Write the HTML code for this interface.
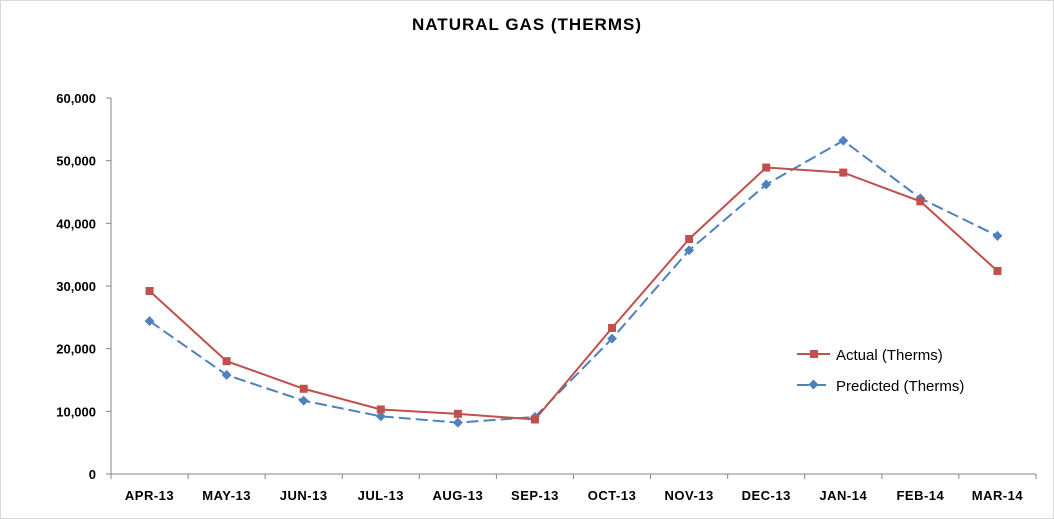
<!DOCTYPE html>
<html><head><meta charset="utf-8"><style>
html,body{margin:0;padding:0;background:#fff;}
svg{display:block;font-family:"Liberation Sans",Arial,sans-serif;}
</style></head><body>
<svg id="chart" width="1054" height="519">
<rect x="0.5" y="0.5" width="1053" height="518" fill="#fff" stroke="#d9d9d9"/>
<text x="527" y="30" text-anchor="middle" font-size="17" font-weight="bold" letter-spacing="1" fill="#000">NATURAL GAS (THERMS)</text>
<g id="axes"></g><g id="series"></g>
<g>
<line x1="797" y1="354" x2="830" y2="354" stroke="#C0504D" stroke-width="2"/>
<rect x="810" y="350" width="8" height="8" fill="#C0504D"/>
<text x="836" y="360" font-size="15" fill="#000">Actual (Therms)</text>
<line x1="797" y1="385" x2="830" y2="385" stroke="#4F81BD" stroke-width="2" stroke-dasharray="12,5"/>
<rect x="810" y="381" width="7" height="7" fill="#4F81BD" transform="rotate(45 813.5 384.5)"/>
<text x="836" y="391" font-size="15" fill="#000">Predicted (Therms)</text>
</g>
</svg>
<script>
const categories=["APR-13","MAY-13","JUN-13","JUL-13","AUG-13","SEP-13","OCT-13","NOV-13","DEC-13","JAN-14","FEB-14","MAR-14"];
const actual=[29200,18000,13600,10300,9600,8700,23300,37500,48900,48100,43500,32400];
const predicted=[24400,15800,11700,9200,8200,9100,21600,35700,46200,53200,44000,38000];
const yTicks=[0,10000,20000,30000,40000,50000,60000];
const NS="http://www.w3.org/2000/svg";
const x0=111,x1=1036,yB=474,yT=98,yMax=60000;
const step=(x1-x0)/categories.length;
function xs(i){return x0+step*(i+0.5);}
function ys(v){return yB-(v/yMax)*(yB-yT);}
function mk(tag,attrs,parent){const e=document.createElementNS(NS,tag);for(const k in attrs)e.setAttribute(k,attrs[k]);parent.appendChild(e);return e;}
const axes=document.getElementById('axes'),ser=document.getElementById('series');
let a=mk('line',{x1:x0,y1:yT,x2:x0,y2:yB,stroke:'#868686'},axes);


a=mk('line',{x1:x0,y1:yB,x2:x1,y2:yB,stroke:'#868686'},axes);


yTicks.forEach(v=>{
 mk('line',{x1:x0-5,y1:ys(v),x2:x0,y2:ys(v),stroke:'#868686'},axes);
 const t=mk('text',{x:x0-15,y:ys(v)+5,'text-anchor':'end','font-size':13,'font-weight':'bold'},axes);
 t.textContent=v.toLocaleString('en-US');
 
 
});
for(let i=0;i<=categories.length;i++)mk('line',{x1:x0+step*i,y1:yB,x2:x0+step*i,y2:yB+5,stroke:'#868686'},axes);
categories.forEach((c,i)=>{
 const t=mk('text',{x:xs(i),y:yB+26,'text-anchor':'middle','font-size':13,'font-weight':'bold','letter-spacing':'0.5'},axes);
 t.textContent=c;
 
 
});
function pts(d){return d.map((v,i)=>xs(i)+','+ys(v)).join(' ');}
let l=mk('polyline',{points:pts(predicted),fill:'none',stroke:'#4F81BD','stroke-width':2,'stroke-dasharray':'12,5'},ser);


l=mk('polyline',{points:pts(actual),fill:'none',stroke:'#C0504D','stroke-width':2},ser);


predicted.forEach((v,i)=>{
 const r=mk('rect',{x:xs(i)-3.5,y:ys(v)-3.5,width:7,height:7,fill:'#4F81BD',transform:`rotate(45 ${xs(i)} ${ys(v)})`},ser);
 
 
});
actual.forEach((v,i)=>{
 const r=mk('rect',{x:xs(i)-4,y:ys(v)-4,width:8,height:8,fill:'#C0504D'},ser);
 
 
});
</script>
</body></html>
